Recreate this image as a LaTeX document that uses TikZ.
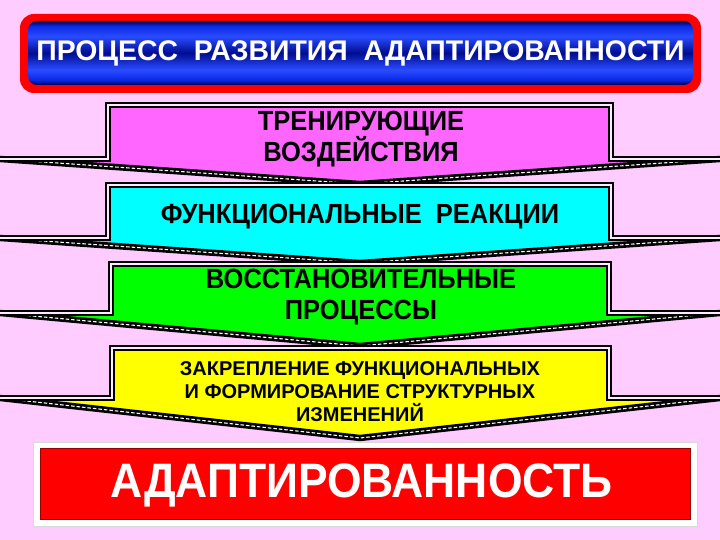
\documentclass[tikz,border=0pt]{standalone}
\usepackage{fontspec}
\setmainfont{Liberation Sans}
\newfontfamily\condsans[FakeStretch=0.92]{Liberation Sans}
\definecolor{bgpink}{HTML}{FFCCFF}
\definecolor{bmag}{HTML}{FF66FF}
\definecolor{bcyan}{HTML}{00FFFF}
\definecolor{bgreen}{HTML}{00FF00}
\definecolor{byellow}{HTML}{FFFF00}
\definecolor{tnavy}{HTML}{000048}
\definecolor{tblue}{HTML}{0A28E6}
\definecolor{tbright}{HTML}{2A4CFF}
\definecolor{tdark}{HTML}{000C90}
\pgfdeclareverticalshading{tube}{100bp}{color(0bp)=(tnavy); color(25bp)=(tnavy); color(29bp)=(tblue); color(37bp)=(tbright); color(50bp)=(tdark); color(63bp)=(tbright); color(71bp)=(tblue); color(75bp)=(tnavy); color(100bp)=(tnavy)}
\tikzset{
  rimline/.style={draw=black, line width=2.3pt, double=bgpink!40!white, double distance=1.1pt, line join=miter},
  diagblack/.style={draw=black, line width=6.4pt, line cap=round},
  diagdash/.style={draw=white, line width=1.1pt, dash pattern=on 3.5pt off 2pt},
  bandtext/.style={align=center, font=\condsans\bfseries\fontsize{27.7}{31.5}\selectfont, text=black, inner sep=0pt},
}
\newcommand{\band}[7]{%
  \fill[#6] (0,#4) -- (#1,#4) -- (#1,#3) -- (#2,#3) -- (#2,#4) -- (720,#4) -- (360,#5) -- cycle;
  \draw[diagblack] (0,#4) -- (360,#5) -- (720,#4);
  \draw[diagdash] (0,#4) -- (360,#5) -- (720,#4);
  \draw[rimline] (0,#4) -- (#1,#4) -- (#1,#3) -- (#2,#3) -- (#2,#4) -- (720,#4);
  \coordinate (#7) at (360,#3);
}
\begin{document}
\begin{tikzpicture}[x=1pt,y=-1pt]
\useasboundingbox (0,0) rectangle (720,540);
\fill[bgpink] (0,0) rectangle (720,540);
% title
\fill[red, rounded corners=14pt] (20,14) rectangle (701,93);
\path[shading=tube, rounded corners=9pt] (28,21) rectangle (693,85);
\node[text=white, font=\bfseries\fontsize{28.4}{32}\selectfont, inner sep=0pt] (title) at (360.5,53) {ПРОЦЕСС\ \ РАЗВИТИЯ\ \ АДАПТИРОВАННОСТИ};
% bands
\band{108}{611}{105}{159}{184}{bmag}{b1top}
\node[bandtext] (t1) at (361,139) {ТРЕНИРУЮЩИЕ\\ВОЗДЕЙСТВИЯ};
\band{108}{611}{185}{238}{263}{bcyan}{b2top}
\node[bandtext] (t2) at (360,217) {ФУНКЦИОНАЛЬНЫЕ\ \ РЕАКЦИИ};
\band{111}{609}{264}{313}{346}{bgreen}{b3top}
\node[bandtext] (t3) at (361,297) {ВОССТАНОВИТЕЛЬНЫЕ\\ПРОЦЕССЫ};
\band{112}{609}{348}{398}{438}{byellow}{b4top}
\node[bandtext, font=\bfseries\fontsize{20}{23}\selectfont] (t4) at (360,392) {ЗАКРЕПЛЕНИЕ ФУНКЦИОНАЛЬНЫХ\\И ФОРМИРОВАНИЕ СТРУКТУРНЫХ\\ИЗМЕНЕНИЙ};
% bottom
\draw[fill=white, draw=black!15, line width=0.6pt] (33,442) rectangle (697,526);
\draw[fill=red, draw=red!60!black, line width=0.8pt] (40,448) rectangle (690,519);
\node[text=white, font=\condsans\bfseries\fontsize{48.3}{52}\selectfont, inner sep=0pt] (res) at (361.5,485) {АДАПТИРОВАННОСТЬ};
\end{tikzpicture}
\end{document}
